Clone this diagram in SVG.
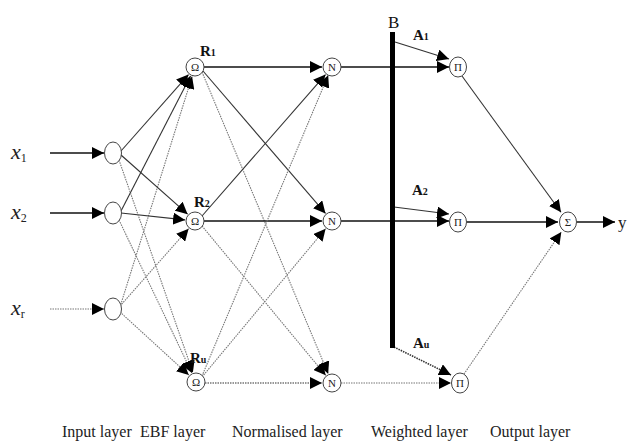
<svg xmlns="http://www.w3.org/2000/svg" width="629" height="441" viewBox="0 0 629 441">
<style>
.s{stroke:#333;stroke-width:1.1;fill:none}
.h{stroke:#111;stroke-width:1.6;fill:none}
.d{stroke:#777;stroke-width:1.1;stroke-dasharray:1.5 1;fill:none}
.n{fill:#fff;stroke:#444;stroke-width:1}
.sym{font-family:"Liberation Serif",serif;font-size:11px;fill:#222;text-anchor:middle}
.lb{font-family:"Liberation Serif",serif;font-size:15px;font-weight:bold;fill:#111}
.sub{font-size:10px}
.xl{font-family:"Liberation Serif",serif;font-size:22px;font-style:italic;fill:#222}
.xs{font-size:12px;font-style:normal}
.ly{font-family:"Liberation Serif",serif;font-size:16px;fill:#222}
</style>
<defs>
<marker id="ah" markerUnits="userSpaceOnUse" markerWidth="13" markerHeight="12" refX="12" refY="6" orient="auto">
<path d="M0,0 L12,6 L0,12 z" fill="#000"/>
</marker>
</defs>
<rect width="629" height="441" fill="#fff"/>
<g id="connectors">
<line class="h" x1="50" y1="153" x2="104" y2="153" marker-end="url(#ah)"/>
<line class="h" x1="50" y1="213" x2="104" y2="213" marker-end="url(#ah)"/>
<line class="d" x1="50" y1="309" x2="104" y2="309" marker-end="url(#ah)"/>
<line class="s" x1="121" y1="151" x2="188.5" y2="74.6" marker-end="url(#ah)"/>
<line class="s" x1="121" y1="211" x2="190.5" y2="75.9" marker-end="url(#ah)"/>
<line class="d" x1="120" y1="307" x2="192.1" y2="76.6" marker-end="url(#ah)"/>
<line class="s" x1="121" y1="155" x2="187.6" y2="214.2" marker-end="url(#ah)"/>
<line class="s" x1="121" y1="213" x2="185.1" y2="219.9" marker-end="url(#ah)"/>
<line class="d" x1="120" y1="306" x2="188.6" y2="228.7" marker-end="url(#ah)"/>
<line class="d" x1="119" y1="160" x2="192.9" y2="372.5" marker-end="url(#ah)"/>
<line class="d" x1="119" y1="220" x2="191.9" y2="372.9" marker-end="url(#ah)"/>
<line class="d" x1="120" y1="312" x2="188.8" y2="375" marker-end="url(#ah)"/>
<line class="h" x1="204" y1="67" x2="322" y2="67" marker-end="url(#ah)"/>
<line class="s" x1="203" y1="71" x2="325.5" y2="213.4" marker-end="url(#ah)"/>
<line class="d" x1="202" y1="72" x2="328.2" y2="373.8" marker-end="url(#ah)"/>
<line class="s" x1="202" y1="216" x2="325.5" y2="74.6" marker-end="url(#ah)"/>
<line class="h" x1="204" y1="221" x2="322" y2="221" marker-end="url(#ah)"/>
<line class="d" x1="202" y1="226" x2="325.7" y2="375.3" marker-end="url(#ah)"/>
<line class="d" x1="202" y1="376" x2="328.2" y2="75.2" marker-end="url(#ah)"/>
<line class="d" x1="202" y1="377" x2="325.6" y2="228.7" marker-end="url(#ah)"/>
<line class="d" x1="205" y1="383" x2="322" y2="383" marker-end="url(#ah)" style="stroke-width:1.6"/>
<line class="h" x1="341" y1="67" x2="449" y2="67" marker-end="url(#ah)"/>
<line class="h" x1="341" y1="221" x2="449" y2="221" marker-end="url(#ah)"/>
<line class="d" x1="341" y1="383" x2="451" y2="383" marker-end="url(#ah)"/>
<line class="s" x1="395" y1="42" x2="449" y2="59" marker-end="url(#ah)"/>
<line class="s" x1="394" y1="207" x2="449" y2="214" marker-end="url(#ah)"/>
<line class="d" x1="394" y1="347" x2="451" y2="375" marker-end="url(#ah)" style="stroke:#333;stroke-width:1.6"/>
<line class="s" x1="462" y1="76" x2="561" y2="212.3" marker-end="url(#ah)"/>
<line class="h" x1="467" y1="222" x2="558" y2="222" marker-end="url(#ah)"/>
<line class="d" x1="464" y1="374" x2="561.3" y2="231.9" marker-end="url(#ah)"/>
<line class="h" x1="577" y1="222" x2="615" y2="222" marker-end="url(#ah)"/>
</g>
<g id="bias-bar">
<rect x="390" y="32" width="5" height="316" fill="#000"/>
<text class="lb" x="388" y="28" style="font-weight:normal;font-size:17px">B</text>
</g>
<g id="input-x1"><ellipse class="n" cx="113" cy="153" rx="8.5" ry="11"/><text class="xl" x="11" y="159">x<tspan class="xs" dy="3">1</tspan></text></g>
<g id="input-x2"><ellipse class="n" cx="113" cy="213" rx="8.5" ry="11"/><text class="xl" x="11" y="219">x<tspan class="xs" dy="3">2</tspan></text></g>
<g id="input-xr"><ellipse class="n" cx="113" cy="309" rx="8.5" ry="11"/><text class="xl" x="11" y="315">x<tspan class="xs" dy="3">r</tspan></text></g>
<g id="ebf-R1"><circle class="n" cx="195" cy="67" r="9"/><text class="sym" x="195" y="71">Ω</text><text class="lb" x="200" y="56">R<tspan class="sub">1</tspan></text></g>
<g id="ebf-R2"><circle class="n" cx="195" cy="221" r="9"/><text class="sym" x="195" y="225">Ω</text><text class="lb" x="194" y="207">R<tspan class="sub">2</tspan></text></g>
<g id="ebf-Ru"><circle class="n" cx="196" cy="382" r="9"/><text class="sym" x="196" y="386">Ω</text><text class="lb" x="190" y="363">R<tspan class="sub">u</tspan></text></g>
<g id="norm-1"><circle class="n" cx="332" cy="67" r="9"/><text class="sym" x="332" y="71">N</text></g>
<g id="norm-2"><circle class="n" cx="332" cy="221" r="9"/><text class="sym" x="332" y="225">N</text></g>
<g id="norm-u"><circle class="n" cx="332" cy="383" r="9"/><text class="sym" x="332" y="387">N</text></g>
<g id="weight-1"><ellipse class="n" cx="458" cy="67" rx="8.5" ry="10"/><text class="sym" x="458" y="71">Π</text><text class="lb" x="413" y="40">A<tspan class="sub">1</tspan></text></g>
<g id="weight-2"><ellipse class="n" cx="458" cy="222" rx="8.5" ry="10"/><text class="sym" x="458" y="226">Π</text><text class="lb" x="412" y="195">A<tspan class="sub">2</tspan></text></g>
<g id="weight-u"><ellipse class="n" cx="460" cy="383" rx="8.5" ry="10"/><text class="sym" x="460" y="387">Π</text><text class="lb" x="413" y="348">A<tspan class="sub">u</tspan></text></g>
<g id="output"><ellipse class="n" cx="568" cy="222" rx="8.5" ry="10"/><text class="sym" x="568" y="226">Σ</text><text class="xl" x="618" y="228" style="font-style:normal;font-size:17px">y</text></g>
<g id="layer-labels">
<text class="ly" x="62" y="437">Input layer</text>
<text class="ly" x="140" y="437">EBF layer</text>
<text class="ly" x="232" y="437">Normalised layer</text>
<text class="ly" x="371" y="437">Weighted layer</text>
<text class="ly" x="490" y="437">Output layer</text>
</g>
</svg>
